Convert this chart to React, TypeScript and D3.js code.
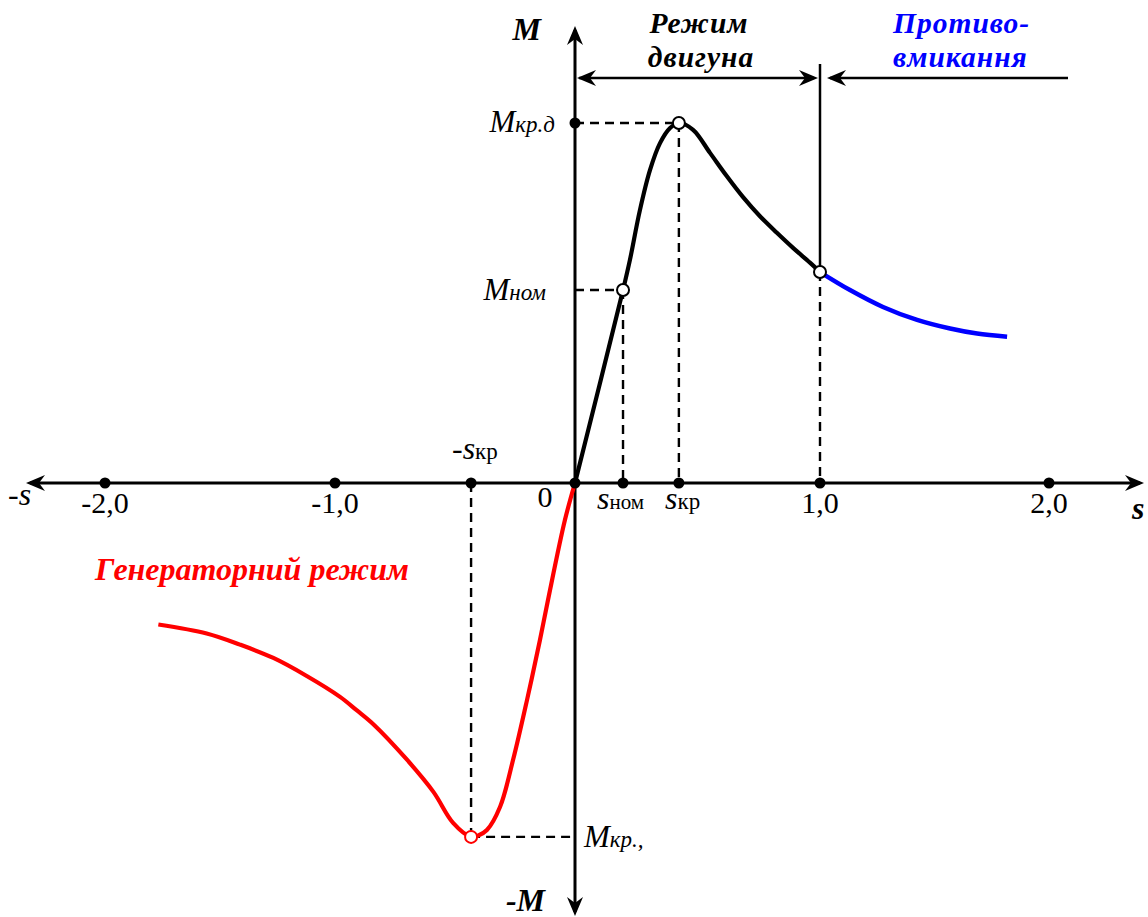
import React from "react";
import * as d3 from "d3";

// Torque–slip characteristic of an induction machine (M in units of the motor critical torque)
const axisTicks = [-2, -1, 0, 1, 2];
const axisTickLabels = ["-2,0", "-1,0", "0", "1,0", "2,0"];

// motor mode: 0 <= s <= 1
const motorS = [0, 0.196, 0.224, 0.265, 0.306, 0.347, 0.388, 0.424, 0.482, 0.551, 0.62, 0.686, 0.755, 0.824, 0.89, 0.959, 1.0];
const motorM = [0, 0.536, 0.619, 0.758, 0.869, 0.944, 0.986, 1.0, 0.981, 0.917, 0.852, 0.794, 0.741, 0.695, 0.653, 0.612, 0.586];

// plugging (counter-current braking): s > 1
const pluggingS = [1.0, 1.131, 1.275, 1.424, 1.568, 1.686, 1.817];
const pluggingM = [0.586, 0.536, 0.489, 0.453, 0.429, 0.415, 0.406];

// generator mode: s < 0
const generatorS = [0, -0.042, -0.1125, -0.146, -0.2, -0.258, -0.3125, -0.367, -0.405, -0.433, -0.508, -0.59, -0.701, -0.837, -0.91, -0.979, -1.123, -1.268, -1.413, -1.558, -1.768];
const generatorM = [0, -0.103, -0.325, -0.436, -0.603, -0.769, -0.9, -0.964, -0.98, -0.983, -0.944, -0.858, -0.768, -0.672, -0.631, -0.594, -0.536, -0.486, -0.449, -0.418, -0.393];

const S_NOM = 0.196;
const M_NOM = 0.536;
const S_KR = 0.424;
const M_KR_D = 1.0;
const S_KR_GEN = -0.433;
const M_KR_GEN = -0.983;
const S_ONE = 1.0;
const M_AT_ONE = 0.586;

const W = 1148;
const H = 917;
const FONT = "Liberation Serif, Times New Roman, serif";

const x = d3.scaleLinear().domain([-2, -1, 0, 1, 2]).range([105, 335, 575, 820, 1049]);
const y = d3.scaleLinear().domain([-1, 1]).range([843, 123]);

const x0 = x(0);
const y0 = y(0);

const line = d3
  .line<[number, number]>()
  .x((d) => x(d[0]))
  .y((d) => y(d[1]))
  .curve(d3.curveCatmullRom.alpha(0.5));

const zip = (a: number[], b: number[]) => a.map((v, i) => [v, b[i]] as [number, number]);

// concave arrowhead pointing along +x, tip at origin
const HEAD = "M0,0 L-19,-8 L-13,0 L-19,8 Z";

function Arrow({ tx, ty, angle }: { tx: number; ty: number; angle: number }) {
  return <path d={HEAD} transform={`translate(${tx},${ty}) rotate(${angle})`} fill="#000" />;
}

export default function App() {
  const dash = "9,6";
  const axisW = 3;
  const topArrowY = 78;
  const sub = 23;

  return (
    <svg
      width={W}
      height={H}
      viewBox={`0 0 ${W} ${H}`}
      style={{ position: "absolute", left: 0, top: 0, background: "#fff", fontFamily: FONT }}
    >
      {/* dashed helper lines */}
      <g stroke="#000" strokeWidth={2.4} strokeDasharray={dash} fill="none">
        <line x1={x0} y1={y(M_KR_D)} x2={x(S_KR)} y2={y(M_KR_D)} />
        <line x1={x(S_KR)} y1={y(M_KR_D)} x2={x(S_KR)} y2={y0} />
        <line x1={x0} y1={y(M_NOM)} x2={x(S_NOM)} y2={y(M_NOM)} />
        <line x1={x(S_NOM)} y1={y(M_NOM)} x2={x(S_NOM)} y2={y0} />
        <line x1={x(S_ONE)} y1={y(M_AT_ONE)} x2={x(S_ONE)} y2={y0} />
        <line x1={x(S_KR_GEN)} y1={y0} x2={x(S_KR_GEN)} y2={y(M_KR_GEN)} />
        <line x1={x(S_KR_GEN)} y1={y(M_KR_GEN)} x2={x0} y2={y(M_KR_GEN)} />
      </g>

      {/* axes */}
      <g stroke="#000" strokeWidth={axisW}>
        <line x1={30} y1={y0} x2={1140} y2={y0} />
        <line x1={x0} y1={30} x2={x0} y2={912} />
      </g>
      <Arrow tx={1144} ty={y0} angle={0} />
      <Arrow tx={26} ty={y0} angle={180} />
      <Arrow tx={x0} ty={26} angle={-90} />
      <Arrow tx={x0} ty={916} angle={90} />

      {/* mode boundary and range arrows */}
      <g stroke="#000" strokeWidth={2.5}>
        <line x1={x(S_ONE)} y1={64} x2={x(S_ONE)} y2={y(M_AT_ONE)} />
        <line x1={x0 + 4} y1={topArrowY} x2={x(S_ONE) - 6} y2={topArrowY} />
        <line x1={x(S_ONE) + 10} y1={topArrowY} x2={1068} y2={topArrowY} />
      </g>
      <Arrow tx={x0 + 2} ty={topArrowY} angle={180} />
      <Arrow tx={x(S_ONE) - 2} ty={topArrowY} angle={0} />
      <Arrow tx={x(S_ONE) + 7} ty={topArrowY} angle={180} />

      {/* characteristic curves */}
      <path d={line(zip(motorS, motorM)) ?? ""} fill="none" stroke="#000" strokeWidth={4.2} strokeLinejoin="round" />
      <path d={line(zip(pluggingS, pluggingM)) ?? ""} fill="none" stroke="#0000ff" strokeWidth={4.5} />
      <path d={line(zip(generatorS, generatorM)) ?? ""} fill="none" stroke="#ff0000" strokeWidth={4.2} strokeLinejoin="round" />

      {/* axis tick dots */}
      <g fill="#000">
        {[...axisTicks, S_NOM, S_KR, S_KR_GEN].map((s, i) => (
          <circle key={i} cx={x(s)} cy={y0} r={5.5} />
        ))}
        <circle cx={x0} cy={y(M_KR_D)} r={5.5} />
      </g>

      {/* characteristic points */}
      <g fill="#fff" stroke="#000" strokeWidth={2}>
        <circle cx={x(S_NOM)} cy={y(M_NOM)} r={6} />
        <circle cx={x(S_KR)} cy={y(M_KR_D)} r={6} />
        <circle cx={x(S_ONE)} cy={y(M_AT_ONE)} r={6} />
      </g>
      <circle cx={x(S_KR_GEN)} cy={y(M_KR_GEN)} r={6} fill="#fff" stroke="#ff0000" strokeWidth={2} />

      {/* numeric axis labels */}
      <g fontSize={30} fill="#000">
        {axisTicks.map((s, i) =>
          s === 0 ? (
            <text key={i} x={x0 - 30} y={507} textAnchor="middle">
              {axisTickLabels[i]}
            </text>
          ) : (
            <text key={i} x={x(s)} y={513} textAnchor="middle">
              {axisTickLabels[i]}
            </text>
          )
        )}
      </g>

      {/* slip labels */}
      <g fontSize={32} fill="#000">
        <text x={8} y={505} fontStyle="italic">-s</text>
        <text x={1132} y={519} fontStyle="italic" fontWeight="bold">s</text>
        <text x={452} y={459}>
          -<tspan fontStyle="italic">s</tspan>
          <tspan fontSize={sub}>кр</tspan>
        </text>
        <text x={597} y={509}>
          <tspan fontStyle="italic">s</tspan>
          <tspan fontSize={sub - 2}>ном</tspan>
        </text>
        <text x={665} y={509}>
          <tspan fontStyle="italic">s</tspan>
          <tspan fontSize={sub}>кр</tspan>
        </text>
      </g>

      {/* torque labels */}
      <g fontSize={31} fill="#000" fontStyle="italic">
        <text x={x0 - 20} y={132} textAnchor="end">
          M<tspan fontSize={sub}>кр.д</tspan>
        </text>
        <text x={x0 - 29} y={300} textAnchor="end">
          M<tspan fontSize={sub}>ном</tspan>
        </text>
        <text x={x0 + 9} y={847}>
          M<tspan fontSize={sub}>кр.,</tspan>
        </text>
        <text x={x0 - 34} y={40} textAnchor="end" fontWeight="bold" fontSize={32}>M</text>
        <text x={x0 - 30} y={911} textAnchor="end" fontWeight="bold" fontSize={32}>-M</text>
      </g>

      {/* mode titles */}
      <g fontSize={29.5} fontStyle="italic" fontWeight="bold" letterSpacing={1}>
        <text x={699} y={33} textAnchor="middle" fill="#000">Режим</text>
        <text x={701} y={67} textAnchor="middle" fill="#000">двигуна</text>
        <text x={893} y={33} fill="#0000ff">Противо-</text>
        <text x={893} y={67} fill="#0000ff">вмикання</text>
      </g>
      <text x={95} y={580} fontSize={32} fontStyle="italic" fontWeight="bold" fill="#ff0000">
        Генераторний режим
      </text>
    </svg>
  );
}
